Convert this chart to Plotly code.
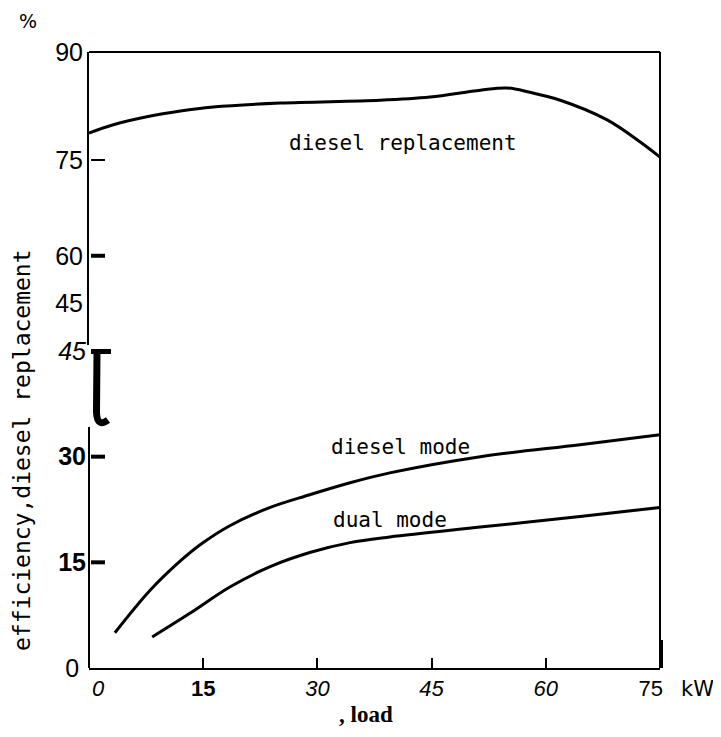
import plotly.graph_objects as go

# ---- data ----
load_repl = [0, 3.2, 7.6, 12.0, 16.3, 25.1, 38.2, 44.8, 51.4, 54.9, 57.9, 61.9, 68.0, 72.4, 75]
eff_repl = [78.75, 79.9, 81.0, 81.8, 82.35, 82.9, 83.3, 83.75, 84.7, 85.0, 84.4, 83.3, 80.6, 77.5, 75.4]

load_diesel = [3.4, 8.0, 12.0, 14.6, 18.5, 23.8, 29.0, 34.3, 39.5, 51.4, 64.5, 75]
eff_diesel = [5.0, 11.0, 15.2, 17.5, 20.2, 22.8, 24.6, 26.3, 27.7, 30.0, 31.7, 33.1]

load_dual = [8.3, 13.3, 18.5, 23.8, 29.0, 34.3, 39.5, 51.4, 64.5, 75]
eff_dual = [4.4, 7.8, 11.5, 14.4, 16.4, 17.8, 18.6, 20.0, 21.5, 22.8]

x_tick_vals = [0, 15, 30, 45, 60, 75]
x_tick_text = ["&nbsp;&nbsp;&nbsp;<i>0</i>", "<b>15</b>", "<i>30</i>", "<i>45</i>", "<i>60</i>",
               "75&nbsp;&nbsp;&nbsp;"]

low_tick_vals = [0, 15, 30, 45]
low_tick_text = ["0&nbsp;", "<b>15</b>", "<b>30</b>", "<i>45</i>"]

up_tick_vals = [90, 75, 61.7, 55.1]
up_tick_text = ["90", "75", "60", "45"]

# ---- layout geometry (screen pixels; page body adds an 8 px offset) ----
OFF = 8
W, H = 705, 721
PL, PR, PT, PB = 89, 660, 52, 668          # plot box in screen pixels
PW, PH = PR - PL, PB - PT
L, T = PL - OFF, PT - OFF
R, B = W - (PR - OFF), H - (PB - OFF)


def px(x):
    return (x - PL) / PW


def py(y):
    return (PB - y) / PH


low_top = py(351)
up_bot = py(345)

fig = go.Figure()
line_style = dict(color="black", width=3, shape="spline", smoothing=1.0)
fig.add_trace(go.Scatter(x=load_repl, y=eff_repl, mode="lines", line=line_style,
                         yaxis="y2", showlegend=False, hoverinfo="skip"))
fig.add_trace(go.Scatter(x=load_diesel, y=eff_diesel, mode="lines", line=line_style,
                         showlegend=False, hoverinfo="skip"))
fig.add_trace(go.Scatter(x=load_dual, y=eff_dual, mode="lines", line=line_style,
                         showlegend=False, hoverinfo="skip"))

tickfont = dict(family="Liberation Sans", size=25, color="black")

fig.update_layout(
    width=W, height=H,
    margin=dict(l=L, r=R, t=T, b=B, pad=0),
    paper_bgcolor="white", plot_bgcolor="white",
    xaxis=dict(range=[0, 75], domain=[0, 1], anchor="y",
               showgrid=False, zeroline=False,
               showline=True, linecolor="black", linewidth=2,
               tickvals=x_tick_vals, ticktext=x_tick_text,
               ticks="inside", ticklen=10, tickwidth=2, tickcolor="black",
               tickfont=dict(family="Liberation Sans", size=22, color="black")),
    yaxis=dict(range=[0, 45], domain=[0, low_top], anchor="x",
               showgrid=False, zeroline=False, showline=False,
               tickvals=low_tick_vals, ticktext=low_tick_text,
               ticks="", tickfont=tickfont, ticklabelstandoff=2),
    yaxis2=dict(range=[90 - (345 - 52) / 7.2, 90], domain=[up_bot, 1], anchor="x",
                showgrid=False, zeroline=False,
                showline=True, linecolor="black", linewidth=2,
                tickvals=up_tick_vals, ticktext=up_tick_text,
                ticks="", tickfont=tickfont, ticklabelstandoff=-1),
)

shapes = []
# frame: top and right
shapes.append(dict(type="line", xref="paper", yref="paper", x0=0, x1=1, y0=1, y1=1,
                   line=dict(color="black", width=2)))
shapes.append(dict(type="line", xref="paper", yref="paper", x0=1, x1=1, y0=0, y1=1,
                   line=dict(color="black", width=2)))
shapes.append(dict(type="line", xref="paper", yref="paper", x0=px(661.5), x1=px(661.5),
                   y0=0, y1=py(640), line=dict(color="black", width=3)))
# lower left axis line (below the break)
shapes.append(dict(type="line", xref="paper", yref="paper", x0=0, x1=0, y0=0, y1=py(427),
                   line=dict(color="black", width=2)))
# y tick marks
for val, yref, w in [(15, "y", 4), (30, "y", 4), (75, "y2", 2), (61.7, "y2", 4)]:
    shapes.append(dict(type="line", xref="paper", yref=yref, x0=px(91), x1=px(105),
                       y0=val, y1=val, line=dict(color="black", width=w)))
# axis break glyph
shapes.append(dict(type="line", xref="paper", yref="paper", x0=px(91), x1=px(111),
                   y0=py(351.5), y1=py(351.5), line=dict(color="black", width=5)))
shapes.append(dict(type="path", xref="paper", yref="paper",
                   path=(f"M {px(97)},{py(352)} L {px(96.5)},{py(412)} "
                         f"Q {px(97)},{py(428)} {px(108)},{py(420)}"),
                   line=dict(color="black", width=7)))
fig.update_layout(shapes=shapes)

txt = dict(family="DejaVu Sans Mono", size=21, color="black")
ann = [
    dict(text="diesel replacement", x=px(403), y=py(143), font=txt),
    dict(text="diesel mode", x=px(400), y=py(447), font=txt),
    dict(text="dual mode", x=px(390), y=py(520), font=txt),
    dict(text="%", x=px(28), y=py(21), font=dict(family="DejaVu Sans", size=19, color="black")),
    dict(text="kW", x=px(697), y=py(689), font=dict(family="DejaVu Sans", size=21, color="black")),
    dict(text="<b>, load</b>", x=px(366), y=py(714),
         font=dict(family="Liberation Serif", size=23, color="black")),
    dict(text="efficiency,diesel replacement", x=px(22), y=py(450), textangle=-90,
         font=dict(family="DejaVu Sans Mono", size=23, color="black")),
]
for a in ann:
    a.update(xref="paper", yref="paper", showarrow=False, xanchor="center", yanchor="middle")
fig.update_layout(annotations=ann)

fig.write_html("out.html")
